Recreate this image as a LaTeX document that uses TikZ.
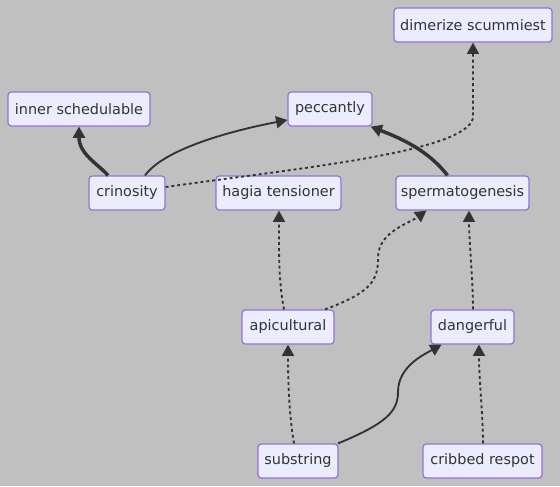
\documentclass[tikz,border=0pt]{standalone}
\usepackage{fontspec}
\setmainfont{DejaVu Sans}
\usetikzlibrary{arrows.meta,calc}
\definecolor{bg}{HTML}{C0C0C0}
\definecolor{nodefill}{HTML}{ECECFF}
\definecolor{nodeline}{HTML}{9370DB}
\definecolor{ink}{HTML}{333333}
\tikzset{
  box/.style={draw=nodeline, fill=nodefill, line width=0.9pt, rounded corners=2.5pt,
    inner sep=0pt, minimum height=25.5pt, text=ink,
    font=\fontsize{10.8pt}{12pt}\selectfont},
  edge/.style={draw=ink, line width=1.4pt, -{Triangle[length=8.5pt,width=9pt]}},
  thickedge/.style={edge, line width=2.6pt},
  dotedge/.style={edge, dash pattern=on 2.2pt off 2.2pt}
}
\begin{document}
\begin{tikzpicture}[x=0.75pt,y=-0.75pt]
\fill[bg] (0,0) rectangle (560,486);
\useasboundingbox (0,0) rectangle (560,486);
\node[box, minimum width=106.5pt] (inner) at (79,109) {inner schedulable};
\node[box, minimum width=63pt] (pecc) at (330,109) {peccantly};
\node[box, minimum width=118.5pt] (dimer) at (473,25) {dimerize scummiest};
\node[box, minimum width=57pt] (crin) at (127,193) {crinosity};
\node[box, minimum width=93.75pt] (hagia) at (278.5,193) {hagia tensioner};
\node[box, minimum width=99.75pt] (sperm) at (462.5,193) {spermatogenesis};
\node[box, minimum width=69pt] (apic) at (288,327) {apicultural};
\node[box, minimum width=62.25pt] (dang) at (472.5,327) {dangerful};
\node[box, minimum width=60pt] (subs) at (298,461) {substring};
\node[box, minimum width=89.25pt] (crib) at (482.5,461) {cribbed respot};

\draw[thickedge] ($(crin.north)+(-19,0)$) .. controls (98,164) and (79,154) .. (inner.south);
\draw[edge] ($(crin.north)+(18,0)$) .. controls (165,148) and (235,130) .. ($(pecc.west)+(0,11)$);
\draw[dotedge] ($(crin.east)+(0,-6)$) .. controls (300,168) and (466,152) .. (473,118) -- (dimer.south);
\draw[thickedge] ($(sperm.north)+(-15,0)$) .. controls (428,150) and (400,138) .. ($(pecc.south east)+(-2,0)$);
\draw[dotedge] ($(apic.north)+(-4,0)$) .. controls (278,280) and (279,240) .. ($(hagia.south)+(0.5,0)$);
\draw[dotedge] ($(apic.north)+(37,0)$) .. controls (372,292) and (378,280) .. (378,258) .. controls (378,232) and (408,224) .. ($(sperm.south)+(-36,0)$);
\draw[dotedge] ($(dang.north)+(0.5,0)$) .. controls (473,280) and (469,240) .. ($(sperm.south)+(6.5,0)$);
\draw[dotedge] ($(subs.north)+(-4,0)$) .. controls (289,415) and (288,380) .. (apic.south);
\draw[edge] ($(subs.north)+(40,0)$) .. controls (385,424) and (398,412) .. (398,392) .. controls (398,366) and (425,354) .. ($(dang.south)+(-31,0)$);
\draw[dotedge] ($(crib.north)+(0.5,0)$) .. controls (483,415) and (479,380) .. ($(dang.south)+(6.5,0)$);
\end{tikzpicture}
\end{document}
